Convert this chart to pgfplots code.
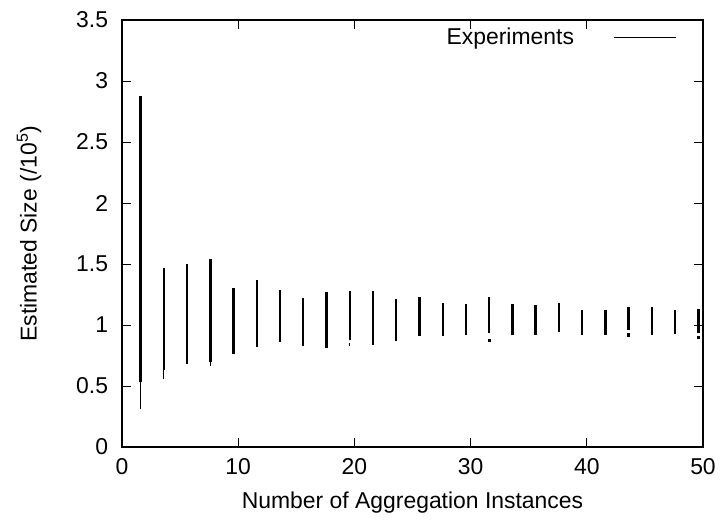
\documentclass[border=0pt]{standalone}
\usepackage{fontspec}
\setmainfont{Liberation Sans}
\usepackage{pgfplots}
\pgfplotsset{compat=1.18}
\begin{document}
\fontsize{11.3}{13.5}\selectfont
\begin{tikzpicture}
\begin{axis}[
  name=ax,
  scale only axis,
  width=290.5bp, height=213.5bp,
  xmin=0, xmax=50, ymin=0, ymax=3.5,
  xtick={0,10,20,30,40,50},
  ytick={0,0.5,1,1.5,2,2.5,3,3.5},
  yticklabels={0,0.5,1,1.5,2,2.5,3,3.5},
  xticklabels={0,10,20,30,40,50},
  major tick length=4.5bp,
  tick style={black, line width=0.5bp},
  axis line style={line width=0.7bp},
  tick label style={font=\fontsize{11.5}{13.5}\selectfont},
  yticklabel style={xshift=-3bp},
  xticklabel style={yshift=-2bp},
  xlabel={Number of Aggregation Instances},
  ylabel={Estimated Size (/10\textsuperscript{5})},
  label style={font=\fontsize{11.5}{13.5}\selectfont},
  xlabel style={at={(axis description cs:0.5,-0.13)}, anchor=center},
  ylabel style={at={(axis description cs:-0.16,0.5)}, anchor=center},
  unbounded coords=jump,
  legend plot pos=right,
  legend style={draw=none, fill=none, at={(axis description cs:0.955,0.958)}, anchor=east,
    font=\fontsize{11.5}{13.5}\selectfont, inner sep=0pt},
  legend image code/.code={\path[draw=none] (0bp,0bp) rectangle (18bp,0bp); \draw[black, line width=0.5bp] (18bp,0bp) -- (49bp,0bp);},
]
% thick main ranges
\addplot[black, line width=1.2bp] coordinates {
(1.6,0.53) (1.6,2.88) (1.6,nan)
(3.6,0.635) (3.6,1.466) (3.6,nan)
(5.6,0.68) (5.6,1.50) (5.6,nan)
(7.6,0.70) (7.6,1.54) (7.6,nan)
(9.6,0.76) (9.6,1.30) (9.6,nan)
(11.6,0.82) (11.6,1.365) (11.6,nan)
(13.6,0.86) (13.6,1.29) (13.6,nan)
(15.6,0.83) (15.6,1.22) (15.6,nan)
(17.6,0.815) (17.6,1.27) (17.6,nan)
(19.6,0.875) (19.6,1.28) (19.6,nan)
(21.6,0.835) (21.6,1.275) (21.6,nan)
(23.6,0.865) (23.6,1.21) (23.6,nan)
(25.6,0.91) (25.6,1.23) (25.6,nan)
(27.6,0.91) (27.6,1.18) (27.6,nan)
(29.6,0.92) (29.6,1.17) (29.6,nan)
(31.6,0.935) (31.6,1.23) (31.6,nan)
(33.6,0.915) (33.6,1.175) (33.6,nan)
(35.6,0.92) (35.6,1.165) (35.6,nan)
(37.6,0.94) (37.6,1.18) (37.6,nan)
(39.6,0.92) (39.6,1.12) (39.6,nan)
(41.6,0.92) (41.6,1.12) (41.6,nan)
(43.6,0.957) (43.6,1.15) (43.6,nan)
(45.6,0.92) (45.6,1.15) (45.6,nan)
(47.6,0.93) (47.6,1.12) (47.6,nan)
(49.6,0.935) (49.6,1.13)
};
\addlegendentry{Experiments}
% thin tails
\addplot[black, line width=0.6bp, forget plot] coordinates {
(1.6,0.31) (1.6,0.53) (1.6,nan)
(3.6,0.556) (3.6,0.635) (3.6,nan)
(7.6,0.665) (7.6,0.70) (7.6,nan)
(19.6,0.83) (19.6,0.85)
};
% outliers
\addplot[black, only marks, mark=square*, mark size=0.6bp, forget plot] coordinates {
(31.6,0.875) (43.6,0.92) (49.6,0.90)
};
\end{axis}
\pgfresetboundingbox
\path (ax.south west) ++(-61bp,-36.5bp) rectangle ++(360.5bp,260bp);
\end{tikzpicture}
\end{document}
